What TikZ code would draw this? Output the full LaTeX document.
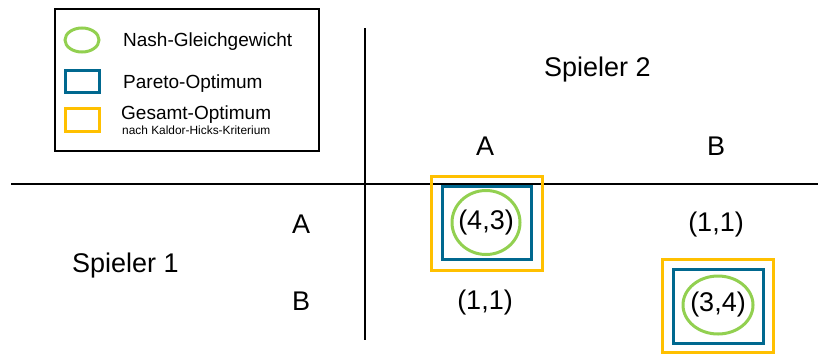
\documentclass[tikz,border=0pt]{standalone}
\usepackage{fontspec}
\setmainfont{Liberation Sans}
\definecolor{nashgreen}{HTML}{92D050}
\definecolor{paretoblue}{HTML}{00688F}
\definecolor{gesamtyellow}{HTML}{FFC000}
\begin{document}
\begin{tikzpicture}[x=1pt,y=-1pt,
  nash/.style={draw=nashgreen,line width=3pt},
  pareto/.style={draw=paretoblue,line width=3pt},
  gesamt/.style={draw=gesamtyellow,line width=3pt},
  big/.style={inner sep=0pt,font=\fontsize{27}{32}\selectfont},
  leg/.style={inner sep=0pt,anchor=base west,font=\fontsize{19}{23}\selectfont}]
\useasboundingbox (0,0) rectangle (818,354);
\draw [line width=1.5pt] (11,184) -- (818,184);
\draw [line width=1.5pt] (365,28) -- (365,340);
\draw [line width=1.2pt] (55,9) rectangle (319,151);
\draw [nash] (82,40) ellipse (17 and 12);
\draw [pareto] (65,70) rectangle (99,92);
\draw [gesamt] (65,108) rectangle (99,131);
\node [leg] (lnash) at (123,46.7) {Nash-Gleichgewicht};
\node [leg] (lpareto) at (123,88.3) {Pareto-Optimum};
\node [leg] (lgesamt) at (121,119.3) {Gesamt-Optimum};
\node [inner sep=0pt,anchor=base west,font=\fontsize{11.9}{14}\selectfont] (lkh) at (122,134.7) {nach Kaldor-Hicks-Kriterium};
\node [big,anchor=base west] (s2) at (544,76.7) {Spieler 2};
\node [big,anchor=base west] (s1) at (72,272.3) {Spieler 1};
\node [big,anchor=base] (cA) at (485,155) {A};
\node [big,anchor=base] (cB) at (716,155) {B};
\node [big,anchor=base] (rA) at (301,233.3) {A};
\node [big,anchor=base] (rB) at (301,310) {B};
\node [big] (pAA) at (486,222.5) {(4,3)};
\node [big] (pAB) at (716,225) {(1,1)};
\node [big] (pBA) at (485,303) {(1,1)};
\node [big] (pBB) at (718,305) {(3,4)};
\draw [gesamt] (431,176) rectangle (542,270);
\draw [pareto] (442,186) rectangle (531,259);
\draw [nash] (pAA) ellipse (34 and 32);
\draw [gesamt] (662,259) rectangle (773,352);
\draw [pareto] (673,269) rectangle (763,343);
\draw [nash] (pBB) ellipse (35 and 29);
\end{tikzpicture}
\end{document}
